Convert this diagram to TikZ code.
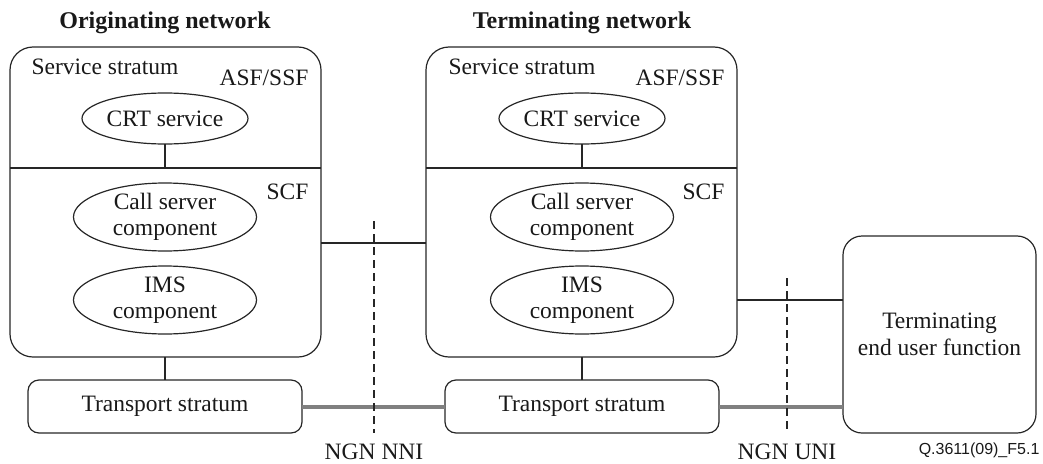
\documentclass[tikz,border=0pt]{standalone}
\usepackage{fontspec}
\setmainfont{Liberation Serif}
\newfontfamily\qsans{Liberation Sans}
\usetikzlibrary{shapes.geometric}
\begin{document}
\begin{tikzpicture}[x=1pt,y=-1pt,
  line width=1.2pt, draw=black!85,
  every node/.style={font=\fontsize{23.5}{26}\selectfont, text=black!90},
  bigbox/.style={draw=black!85, rounded corners=23pt, inner sep=0pt, outer sep=0pt, minimum width=311pt, minimum height=310pt},
  trbox/.style={draw=black!85, rounded corners=11pt, inner sep=0pt, outer sep=0pt, minimum width=274pt, minimum height=53pt},
  eubox/.style={draw=black!85, rounded corners=19pt, inner sep=0pt, outer sep=0pt, minimum width=193pt, minimum height=197pt, align=center, font=\fontsize{23.5}{27}\selectfont},
  crt/.style={draw=black!85, ellipse, inner sep=0pt, outer sep=0pt, minimum width=166pt, minimum height=51pt},
  comp/.style={draw=black!85, ellipse, inner sep=0pt, outer sep=0pt, minimum width=183pt, minimum height=68pt, align=center},
  title/.style={font=\bfseries\fontsize{24}{26}\selectfont},
  link/.style={draw=black!85, line width=1.2pt},
  transp/.style={draw=black!50, line width=4pt},
  iface/.style={draw=black!85, line width=1.2pt, dash pattern=on 8pt off 5pt},
  lbl/.style={inner sep=0pt}
]
\useasboundingbox (0,0) rectangle (1043,463);

% titles
\node[title] (tO) at (165,23) {Originating network};
\node[title] (tT) at (582,23) {Terminating network};

% big boxes
\node[bigbox] (lnet) at (165.5,202) {};
\node[bigbox] (rnet) at (581.5,202) {};

% dividers
\coordinate (dLw) at (10,168); \coordinate (dLe) at (321,168);
\coordinate (dRw) at (426,168); \coordinate (dRe) at (737,168);
\draw[link] (dLw) -- (dLe);
\draw[link] (dRw) -- (dRe);

% labels inside
\node[lbl, anchor=west] (ssL) at (31,67) {Service stratum};
\node[lbl, anchor=east] (asfL) at (309,78) {ASF/SSF};
\node[lbl, anchor=east] (scfL) at (309,192) {SCF};
\node[lbl, anchor=west] (ssR) at (448,67) {Service stratum};
\node[lbl, anchor=east] (asfR) at (725,78) {ASF/SSF};
\node[lbl, anchor=east] (scfR) at (725,192) {SCF};

% ellipses
\node[crt] (crtL) at (165,118.5) {CRT service};
\node[crt] (crtR) at (582,118.5) {CRT service};
\node[comp] (csL) at (165,217) {Call server\\component};
\node[comp] (csR) at (582,217) {Call server\\component};
\node[comp] (imsL) at (165,300) {IMS\\component};
\node[comp] (imsR) at (582,300) {IMS\\component};

\coordinate (dL) at (165,168);
\coordinate (dR) at (582,168);
\draw[link] (crtL.south) -- (dL);
\draw[link] (crtR.south) -- (dR);

% transport
\node[trbox] (trL) at (165,406.5) {Transport stratum};
\node[trbox] (trR) at (582,406.5) {Transport stratum};
\draw[link] (lnet.south -| trL.north) -- (trL.north);
\draw[link] (rnet.south -| trR.north) -- (trR.north);

% end user
\node[eubox] (eu) at (939.5,334.5) {Terminating\\end user function};

% connectors
\coordinate (yA) at (0,243);
\coordinate (yB) at (0,300);
\draw[link] (lnet.east |- yA) -- (rnet.west |- yA);
\draw[link] (rnet.east |- yB) -- (eu.west |- yB);
\draw[transp] (trL.east) -- (trR.west);
\draw[transp] (trR.east) -- (eu.west |- trR.east);

% interfaces
\coordinate (nniT) at (374,221); \coordinate (nniB) at (374,433);
\coordinate (uniT) at (787,278); \coordinate (uniB) at (787,433);
\draw[iface] (nniT) -- (nniB);
\draw[iface] (uniT) -- (uniB);
\node (nni) at (374,452) {NGN NNI};
\node (uni) at (787,452) {NGN UNI};
\node[anchor=east, inner sep=0pt, font=\qsans\fontsize{16}{18}\selectfont] (fig) at (1040,450) {Q.3611(09)\_F5.1};
\end{tikzpicture}
\end{document}
